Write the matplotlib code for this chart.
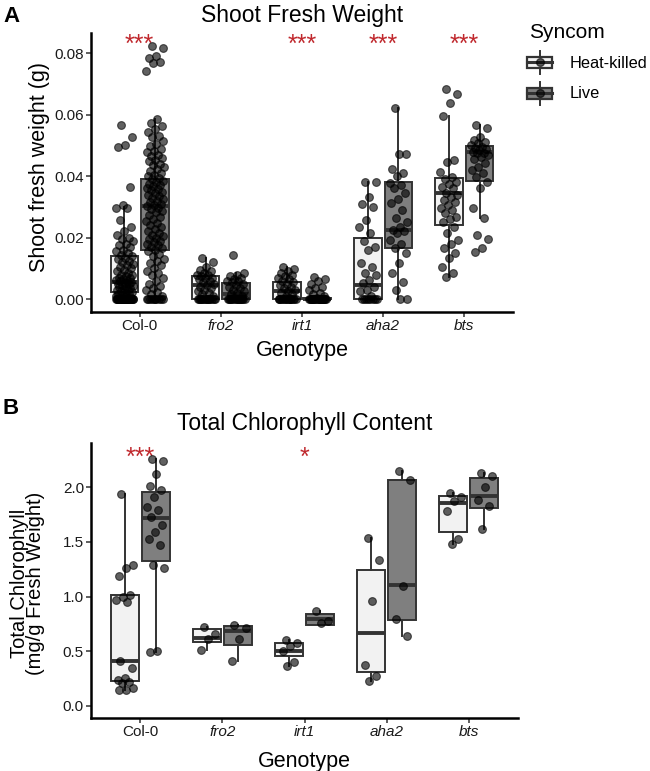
import numpy as np
import matplotlib
matplotlib.use("Agg")
import matplotlib.pyplot as plt
from matplotlib.legend_handler import HandlerBase
from matplotlib.patches import Rectangle
from matplotlib.lines import Line2D

plt.rcParams['font.family'] = ['Liberation Sans', 'DejaVu Sans']

genotypes = ['Col-0', 'fro2', 'irt1', 'aha2', 'bts']
syncoms = ['Heat-killed', 'Live']

# box stats per genotype: whisker low, q1, median, q3, whisker high
fw_box_hk = [
    [0.0, 0.0024, 0.0055, 0.0140, 0.0300],
    [0.0, 0.0, 0.0046, 0.0074, 0.0133],
    [0.0, 0.0, 0.0026, 0.0056, 0.0103],
    [0.0, 0.0, 0.0047, 0.0200, 0.0382],
    [0.0073, 0.0241, 0.0346, 0.0395, 0.0596],
]
fw_box_live = [
    [0.0, 0.0160, 0.0302, 0.0391, 0.0586],
    [0.0, 0.0, 0.0015, 0.0053, 0.0085],
    [0.0, 0.0, 0.0, 0.0004, 0.0010],
    [0.0, 0.0167, 0.0225, 0.0380, 0.0623],
    [0.0263, 0.0385, 0.0480, 0.0498, 0.0567],
]

# shoot fresh weight (g), individual plants
fw_col0_hk = [0.0567, 0.0529, 0.0502, 0.0494, 0.0366, 0.0307, 0.0298, 0.0295, 0.0257,
              0.0235, 0.022, 0.021, 0.020, 0.0195, 0.019, 0.018, 0.0175, 0.017, 0.016,
              0.0155, 0.015, 0.0145, 0.014, 0.0135, 0.013, 0.0125, 0.012, 0.0115, 0.011,
              0.0105, 0.010, 0.0095, 0.009, 0.0085, 0.008, 0.0078, 0.0075, 0.007, 0.0068,
              0.0065, 0.0062, 0.006, 0.0058, 0.0055, 0.0052, 0.005, 0.0048, 0.0045, 0.0042,
              0.004, 0.0038, 0.0035, 0.0032, 0.003, 0.0028, 0.0025, 0.0022, 0.002, 0.0018,
              0.0015, 0.0012, 0.001, 0.0008, 0.0005, 0.0003, 0.0, 0.0, 0.0, 0.0, 0.0, 0.0,
              0.0, 0.0, 0.0, 0.0, 0.0, 0.0, 0.0, 0.0, 0.0, 0.0, 0.0, 0.0, 0.0, 0.0, 0.0,
              0.0, 0.0, 0.0, 0.0]
fw_col0_live = [0.0825, 0.0818, 0.0792, 0.0785, 0.0772, 0.0768, 0.0742, 0.0586, 0.0572,
                0.0562, 0.0553, 0.0545, 0.0532, 0.0528, 0.0515, 0.0505, 0.0498, 0.0490,
                0.0482, 0.0478, 0.0470, 0.0465, 0.0458, 0.0452, 0.0448, 0.0440, 0.0435,
                0.0430, 0.0425, 0.0418, 0.0412, 0.0405, 0.0400, 0.0395, 0.0390, 0.0385,
                0.0380, 0.0375, 0.0372, 0.0368, 0.0362, 0.0358, 0.0355, 0.0350, 0.0345,
                0.0340, 0.0335, 0.0330, 0.0325, 0.0320, 0.0315, 0.0310, 0.0305, 0.0302,
                0.0298, 0.0292, 0.0288, 0.0282, 0.0275, 0.0268, 0.0262, 0.0255, 0.0248,
                0.0242, 0.0235, 0.0228, 0.0222, 0.0215, 0.0210, 0.0205, 0.0200, 0.0195,
                0.0190, 0.0185, 0.0180, 0.0175, 0.0170, 0.0165, 0.0160, 0.0155, 0.0148,
                0.0140, 0.0132, 0.0125, 0.0118, 0.0110, 0.0100, 0.0092, 0.0085, 0.0078,
                0.0068, 0.0060, 0.0050, 0.0042, 0.0035, 0.0030, 0.0022, 0.0015, 0.0010,
                0.0, 0.0, 0.0, 0.0, 0.0, 0.0, 0.0, 0.0, 0.0, 0.0]
fw_fro2_hk = [0.0133, 0.012, 0.0105, 0.0095, 0.009, 0.0085, 0.008, 0.0078, 0.0075, 0.007,
              0.0068, 0.0065, 0.006, 0.0055, 0.005, 0.0045, 0.004, 0.0035, 0.003, 0.0025,
              0.002, 0.0015, 0.001, 0.0, 0.0, 0.0, 0.0, 0.0, 0.0, 0.0, 0.0, 0.0, 0.0, 0.0,
              0.0, 0.0, 0.0, 0.0]
fw_fro2_live = [0.0143, 0.0085, 0.008, 0.0075, 0.007, 0.0065, 0.006, 0.0058, 0.0055, 0.005,
                0.0045, 0.004, 0.0035, 0.003, 0.0025, 0.002, 0.0015, 0.001, 0.0005, 0.0,
                0.0, 0.0, 0.0, 0.0, 0.0, 0.0, 0.0, 0.0, 0.0, 0.0, 0.0, 0.0, 0.0, 0.0]
fw_irt1_hk = [0.0103, 0.0098, 0.009, 0.0085, 0.008, 0.0075, 0.007, 0.0065, 0.006, 0.0055,
              0.005, 0.0045, 0.004, 0.0035, 0.003, 0.0025, 0.002, 0.0015, 0.001, 0.0, 0.0,
              0.0, 0.0, 0.0, 0.0, 0.0, 0.0, 0.0, 0.0, 0.0, 0.0, 0.0, 0.0, 0.0]
fw_irt1_live = [0.0073, 0.0065, 0.0058, 0.005, 0.004, 0.0035, 0.003, 0.002, 0.0015, 0.001,
                0.0005, 0.0, 0.0, 0.0, 0.0, 0.0, 0.0, 0.0, 0.0, 0.0, 0.0, 0.0, 0.0, 0.0,
                0.0, 0.0, 0.0, 0.0, 0.0, 0.0, 0.0]
fw_aha2_hk = [0.0382, 0.0382, 0.0331, 0.0308, 0.0301, 0.0257, 0.0235, 0.0214, 0.019, 0.017,
              0.016, 0.0116, 0.0105, 0.0085, 0.008, 0.0062, 0.0051, 0.004, 0.0029, 0.0025,
              0.001, 0.0, 0.0, 0.0, 0.0, 0.0, 0.0, 0.0, 0.0]
fw_aha2_live = [0.0623, 0.0472, 0.0472, 0.0422, 0.0409, 0.040, 0.0379, 0.037, 0.036, 0.0344,
                0.0325, 0.0312, 0.029, 0.0263, 0.025, 0.0235, 0.0225, 0.022, 0.0214, 0.0192,
                0.018, 0.0165, 0.0149, 0.0116, 0.0084, 0.0056, 0.0029, 0.0, 0.0]
fw_bts_hk = [0.0683, 0.0668, 0.0639, 0.0596, 0.0453, 0.0445, 0.0415, 0.0398, 0.039, 0.0382,
             0.0375, 0.0366, 0.036, 0.0346, 0.034, 0.0332, 0.0322, 0.0315, 0.0306, 0.0298,
             0.029, 0.028, 0.0268, 0.026, 0.0252, 0.0235, 0.0214, 0.0192, 0.018, 0.0165,
             0.0149, 0.0133, 0.0105, 0.0084, 0.0073]
fw_bts_live = [0.0567, 0.0556, 0.0529, 0.0518, 0.0512, 0.0507, 0.0502, 0.0496, 0.0492,
               0.0488, 0.0485, 0.048, 0.0477, 0.0474, 0.047, 0.0463, 0.0455, 0.0442, 0.043,
               0.042, 0.041, 0.0398, 0.0382, 0.036, 0.0296, 0.0263, 0.0208, 0.0197, 0.0165,
               0.0154]

chl_box_hk = [
    [0.14, 0.226, 0.41, 1.014, 1.936],
    [0.51, 0.58, 0.62, 0.70, 0.72],
    [0.36, 0.458, 0.50, 0.57, 0.60],
    [0.23, 0.306, 0.663, 1.243, 1.54],
    [1.48, 1.594, 1.853, 1.92, 1.945],
]
chl_box_live = [
    [0.495, 1.325, 1.72, 1.96, 2.262],
    [0.41, 0.556, 0.68, 0.73, 0.74],
    [0.74, 0.74, 0.79, 0.837, 0.87],
    [0.64, 0.785, 1.105, 2.067, 2.15],
    [1.62, 1.813, 1.923, 2.088, 2.13],
]

# total chlorophyll (mg/g fresh weight)
chl_col0_hk = [1.936, 1.288, 1.258, 1.188, 1.014, 0.998, 0.97, 0.952, 0.409, 0.342, 0.257,
               0.235, 0.22, 0.21, 0.159, 0.144, 0.14]
chl_col0_live = [2.262, 2.241, 2.119, 2.012, 1.975, 1.914, 1.823, 1.792, 1.731, 1.655,
                 1.594, 1.524, 1.472, 1.288, 1.258, 0.504, 0.495]
chl_fro2_hk = [0.72, 0.66, 0.61, 0.51]
chl_fro2_live = [0.74, 0.71, 0.61, 0.41]
chl_irt1_hk = [0.60, 0.57, 0.55, 0.50, 0.40, 0.36]
chl_irt1_live = [0.87, 0.78, 0.76]
chl_aha2_hk = [1.54, 1.33, 0.96, 0.37, 0.27, 0.23]
chl_aha2_live = [2.15, 2.07, 1.10, 0.79, 0.64]
chl_bts_hk = [1.945, 1.91, 1.87, 1.78, 1.53, 1.48]
chl_bts_live = [2.13, 2.10, 2.00, 1.88, 1.83, 1.62]

fw_points = {
    'Heat-killed': [fw_col0_hk, fw_fro2_hk, fw_irt1_hk, fw_aha2_hk, fw_bts_hk],
    'Live': [fw_col0_live, fw_fro2_live, fw_irt1_live, fw_aha2_live, fw_bts_live],
}
chl_points = {
    'Heat-killed': [chl_col0_hk, chl_fro2_hk, chl_irt1_hk, chl_aha2_hk, chl_bts_hk],
    'Live': [chl_col0_live, chl_fro2_live, chl_irt1_live, chl_aha2_live, chl_bts_live],
}

fw_stars = ['***', '', '***', '***', '***']
chl_stars = ['***', '', '*', '', '']

FILL = {'Heat-killed': '#F2F2F2', 'Live': '#7F7F7F'}
EDGE = '#333333'
STAR = '#C0282D'
DODGE = 0.1875
BOX_W = 0.34


def jitter(n, width):
    # deterministic spread so points don't stack
    return ((np.arange(n) * 0.618034 + 0.31) % 1 - 0.5) * 2 * width


def draw_panel(ax, boxes, points, stars, star_y, ylim, yticks, yfmt):
    for k, s in enumerate(syncoms):
        off = -DODGE if k == 0 else DODGE
        stats = [dict(whislo=b[0], q1=b[1], med=b[2], q3=b[3], whishi=b[4], label='')
                 for b in boxes[s]]
        pos = np.arange(len(genotypes)) + off
        ax.bxp(stats, positions=pos, widths=BOX_W, showfliers=False, showcaps=False,
               patch_artist=True,
               boxprops=dict(facecolor=FILL[s], edgecolor=EDGE, linewidth=1.4),
               whiskerprops=dict(color=EDGE, linewidth=1.4),
               medianprops=dict(color=EDGE, linewidth=2.8, solid_capstyle='butt'))
        for i, vals in enumerate(points[s]):
            x = pos[i] + jitter(len(vals), 0.11)
            ax.plot(x, vals, 'o', ms=5.6, mfc='black', mec='black', mew=0.8,
                    alpha=0.62, zorder=4)
    for i, st in enumerate(stars):
        if st:
            ax.text(i, star_y, st, color=STAR, fontsize=18, ha='center', va='center')
    ax.set_xlim(-0.6, len(genotypes) - 0.4)
    ax.set_ylim(*ylim)
    ax.set_yticks(yticks)
    ax.set_yticklabels([yfmt.format(t) for t in yticks])
    ax.set_xticks(np.arange(len(genotypes)))
    ax.set_xticklabels(genotypes)
    for lab in ax.get_xticklabels()[1:]:
        lab.set_fontstyle('italic')
    for side in ['top', 'right']:
        ax.spines[side].set_visible(False)
    for side in ['left', 'bottom']:
        ax.spines[side].set_linewidth(1.8)
        ax.spines[side].set_color('black')
    ax.tick_params(labelsize=11, length=3.6, width=1.1, color=EDGE, pad=1.5,
                   labelcolor='#1a1a1a')


class BoxKeyHandler(HandlerBase):
    def create_artists(self, legend, orig_handle, xdescent, ydescent, width, height,
                       fontsize, trans):
        x0, y0 = -xdescent, -ydescent
        cx, cy = x0 + width / 2, y0 + height / 2
        bh = height * 0.5
        whisk = Line2D([cx, cx], [y0, y0 + height], color=EDGE, lw=1.4, transform=trans)
        rect = Rectangle((x0, cy - bh / 2), width, bh, facecolor=orig_handle.get_facecolor(),
                         edgecolor=EDGE, lw=1.6, transform=trans)
        med = Line2D([x0, x0 + width], [cy, cy], color=EDGE, lw=2.2, transform=trans)
        dot = Line2D([cx], [cy], marker='o', ms=5.6, color='black', alpha=0.62,
                     transform=trans)
        return [whisk, rect, med, dot]


W, H = 650, 771
fig = plt.figure(figsize=(6.5, 7.71), dpi=100)

axA = fig.add_axes([91 / W, 1 - 312 / H, 422 / W, 279 / H])
draw_panel(axA, {'Heat-killed': fw_box_hk, 'Live': fw_box_live}, fw_points, fw_stars,
           0.0829, (-0.0042, 0.0866), [0, 0.02, 0.04, 0.06, 0.08], '{:.2f}')
axA.set_title('Shoot Fresh Weight', fontsize=16.5, pad=8)
axA.set_ylabel('Shoot fresh weight (g)', fontsize=15.5)
axA.set_xlabel('Genotype', fontsize=15.5)
axA.yaxis.set_label_coords(-0.097, 0.52)
axA.xaxis.set_label_coords(0.5, -0.1)

axB = fig.add_axes([91 / W, 1 - 718.3 / H, 427 / W, 275.6 / H])
draw_panel(axB, {'Heat-killed': chl_box_hk, 'Live': chl_box_live}, chl_points, chl_stars,
           2.27, (-0.115, 2.408), [0, 0.5, 1.0, 1.5, 2.0], '{:.1f}')
axB.set_title('Total Chlorophyll Content', fontsize=16.5, pad=9)
axB.set_ylabel('Total Chlorophyll\n(mg/g Fresh Weight)', fontsize=14.5, linespacing=0.8)
axB.set_xlabel('Genotype', fontsize=15.5)
axB.yaxis.set_label_coords(-0.108, 0.49)
axB.xaxis.set_label_coords(0.5, -0.118)

handles = [Rectangle((0, 0), 1, 1, facecolor=FILL[s]) for s in syncoms]
fig.legend(handles, syncoms, handler_map={Rectangle: BoxKeyHandler()},
           loc='upper left', bbox_to_anchor=(527 / W, 1 - 51 / H), frameon=False,
           fontsize=11.8, handlelength=1.55, handleheight=1.75, labelspacing=0.5,
           handletextpad=1.05, borderpad=0, borderaxespad=0)
fig.text(529 / W, 1 - 32 / H, 'Syncom', fontsize=15, va='center')

fig.text(3 / W, 1 - 16 / H, 'A', fontsize=16, fontweight='bold', va='center')
fig.text(3 / W, 1 - 409 / H, 'B', fontsize=16, fontweight='bold', va='center')

fig.savefig('out.png', dpi=100)
